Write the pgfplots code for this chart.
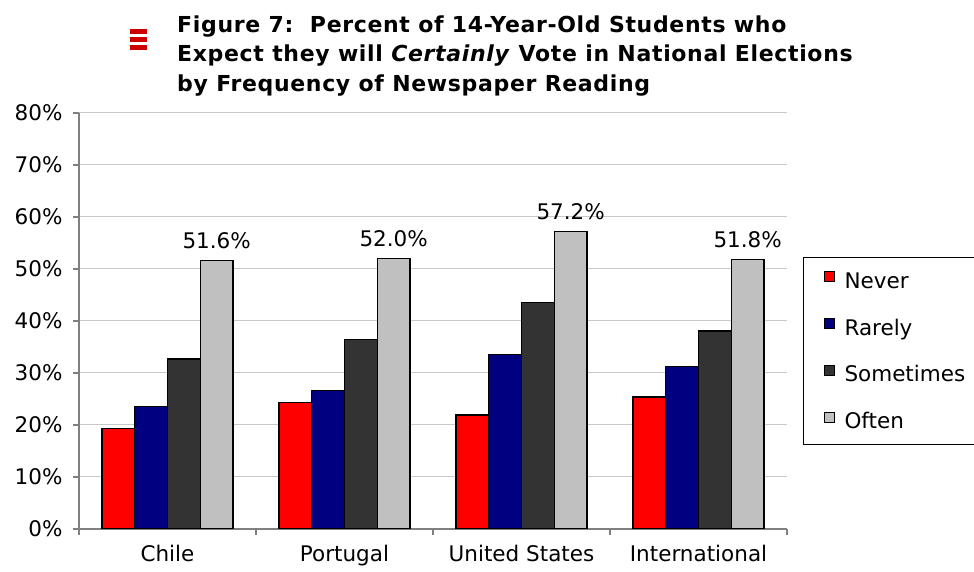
\documentclass[border=0pt]{standalone}
\usepackage{pgfplots}
\pgfplotsset{compat=1.18}
\usepackage{fontspec}
\setmainfont{DejaVu Sans}
\newfontfamily\titlefont{DejaVu Sans}[LetterSpace=3]
\newcommand{\chartfont}{\fontsize{21.5bp}{25bp}\selectfont}
\definecolor{cNever}{HTML}{FF0000}
\definecolor{cRarely}{HTML}{000080}
\definecolor{cSometimes}{HTML}{333333}
\definecolor{cOften}{HTML}{C0C0C0}
\definecolor{cIcon}{HTML}{CC0000}
\definecolor{cGrid}{HTML}{C8C8C8}
\definecolor{cAxis}{HTML}{808080}
\begin{document}
\begin{tikzpicture}[x=1bp,y=1bp]
\useasboundingbox (0,0) rectangle (974,572);
\clip (0,0) rectangle (974,572);
% title icon
\fill[cIcon] (130,538) rectangle (147,543);
\fill[cIcon] (130,530) rectangle (147,535);
\fill[cIcon] (130,522) rectangle (147,527);
\node[anchor=west, align=left, inner sep=0pt, font=\titlefont\bfseries\fontsize{22bp}{29.5bp}\selectfont] at (177,516)
 {Figure 7:\ \ Percent of 14-Year-Old Students who\\
  Expect they will \textit{Certainly} Vote in National Elections\\
  by Frequency of Newspaper Reading};
\begin{axis}[
  at={(79bp,43bp)}, anchor=south west,
  scale only axis, width=708bp, height=416bp,
  ybar=0pt, bar width=32.8bp,
  xmin=-0.5, xmax=3.5, ymin=0, ymax=80,
  xtick={-0.5,0.5,1.5,2.5,3.5},
  xticklabels={Chile,Portugal,United States,International},
  x tick label as interval,
  ytick={0,10,...,80},
  yticklabels={0\%,10\%,20\%,30\%,40\%,50\%,60\%,70\%,80\%},
  axis x line=bottom, axis y line=left,
  axis line style={-, draw=cAxis, line width=1.3bp},
  ymajorgrids, grid style={draw=cGrid, line width=1bp},
  tick align=outside, major tick length=6bp,
  tick style={draw=cAxis, line width=1.2bp},
  tick label style={font=\chartfont},
  every x tick label/.append style={yshift=-7bp},
  every y tick label/.append style={xshift=-7bp},
  legend style={at={(1.0226,0.6539)}, anchor=north west, draw=black, line width=1bp,
    inner xsep=20bp, inner ysep=14bp, row sep=28.4bp, font=\chartfont,
    nodes={inner sep=0pt}, legend cell align=left},
  legend image code/.code={\draw[#1,draw=black,line width=1bp] (0bp,-1bp) rectangle (10bp,9bp);},
  every axis plot/.append style={draw=black, line width=1.3bp},
]
\addplot[fill=cNever] coordinates {(0,19.3) (1,24.3) (2,21.9) (3,25.4)};
\addplot[fill=cRarely] coordinates {(0,23.5) (1,26.6) (2,33.5) (3,31.2)};
\addplot[fill=cSometimes] coordinates {(0,32.7) (1,36.5) (2,43.5) (3,38.1)};
\addplot[fill=cOften, nodes near coords, point meta=explicit symbolic,
  every node near coord/.append style={font=\chartfont, anchor=base, yshift=12bp, text=black}]
  coordinates {(0,51.6) [51.6\%] (1,52.0) [52.0\%] (2,57.2) [57.2\%] (3,51.8) [51.8\%]};
\addlegendentry{\makebox[170bp][l]{\hspace*{10bp}\rule[-5bp]{0pt}{21bp}Never}}
\addlegendentry{\makebox[170bp][l]{\hspace*{10bp}\rule[-5bp]{0pt}{21bp}Rarely}}
\addlegendentry{\makebox[170bp][l]{\hspace*{10bp}\rule[-5bp]{0pt}{21bp}Sometimes}}
\addlegendentry{\makebox[170bp][l]{\hspace*{10bp}\rule[-5bp]{0pt}{21bp}Often}}
\end{axis}
\end{tikzpicture}
\end{document}
